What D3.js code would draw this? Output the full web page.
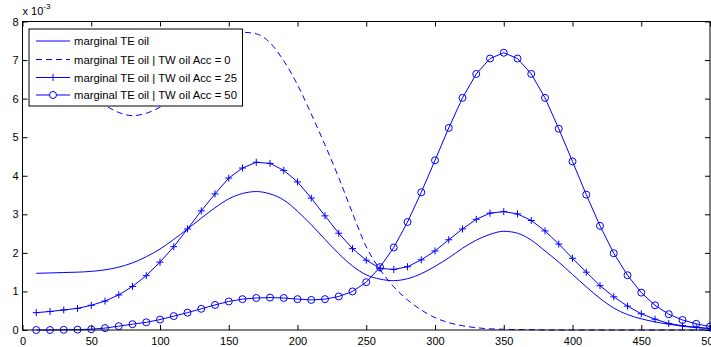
<!DOCTYPE html>
<html lang="en">
<head>
  <meta charset="UTF-8">
  <title>marginal TE oil</title>
  <style>
    body { margin: 0; background: #fff; }
    text { font-family: "Liberation Sans", Arial, sans-serif; fill: #000; }
  </style>
</head>
<body>
  <svg id="chart" width="711" height="347"></svg>

  <script src="https://d3js.org/d3.v7.min.js"></script>
  <script>
    // x positions (same for every series)
    const xs = [10, 20, 30, 40, 50, 60, 70, 80, 90, 100,
                110, 120, 130, 140, 150, 160, 170, 180, 190, 200,
                210, 220, 230, 240, 250, 260, 270, 280, 290, 300,
                310, 320, 330, 340, 350, 360, 370, 380, 390, 400,
                410, 420, 430, 440, 450, 460, 470, 480, 490, 500];

    // values in units of 1e-3
    const marginal = [1.47, 1.48, 1.49, 1.50, 1.52, 1.56, 1.63, 1.74, 1.90, 2.10,
                      2.35, 2.62, 2.90, 3.17, 3.40, 3.54, 3.59, 3.53, 3.37, 3.08,
                      2.73, 2.35, 1.98, 1.66, 1.43, 1.32, 1.28, 1.33, 1.46, 1.65,
                      1.87, 2.12, 2.33, 2.48, 2.56, 2.51, 2.33, 2.05, 1.76, 1.44,
                      1.12, 0.82, 0.57, 0.40, 0.29, 0.21, 0.15, 0.10, 0.06, 0.04];

    const acc0 = [6.70, 6.55, 6.35, 6.15, 5.98, 5.82, 5.64, 5.56, 5.62, 5.78,
                  6.05, 6.40, 6.78, 7.15, 7.48, 7.72, 7.68, 7.45, 6.98, 6.36,
                  5.60, 4.80, 3.95, 3.03, 2.16, 1.57, 1.12, 0.78, 0.52, 0.32,
                  0.19, 0.11, 0.06, 0.03, 0.02, 0.01, 0.01, 0.0, 0.0, 0.0,
                  0.0, 0.0, 0.0, 0.0, 0.0, 0.0, 0.0, 0.0, 0.0, 0.0];

    const acc25 = [0.45, 0.48, 0.52, 0.56, 0.64, 0.75, 0.91, 1.13, 1.41, 1.76,
                   2.16, 2.62, 3.09, 3.53, 3.94, 4.20, 4.35, 4.32, 4.14, 3.84,
                   3.42, 2.96, 2.51, 2.11, 1.81, 1.60, 1.57, 1.64, 1.82, 2.05,
                   2.34, 2.62, 2.87, 3.03, 3.07, 3.01, 2.84, 2.57, 2.23, 1.86,
                   1.50, 1.15, 0.86, 0.62, 0.42, 0.28, 0.17, 0.11, 0.07, 0.04];

    const acc50 = [0.0, 0.0, 0.005, 0.01, 0.02, 0.05, 0.10, 0.15, 0.20, 0.27,
                   0.36, 0.45, 0.55, 0.65, 0.74, 0.80, 0.83, 0.84, 0.83, 0.80,
                   0.78, 0.80, 0.87, 1.00, 1.24, 1.63, 2.14, 2.80, 3.57, 4.40,
                   5.24, 6.02, 6.64, 7.04, 7.19, 7.04, 6.64, 6.02, 5.22, 4.37,
                   3.51, 2.70, 1.99, 1.42, 0.97, 0.64, 0.41, 0.26, 0.16, 0.09];

    const xTicks = [0, 50, 100, 150, 200, 250, 300, 350, 400, 450, 500];
    const yTicks = [0, 1, 2, 3, 4, 5, 6, 7, 8];

    const legendLabels = ["marginal TE oil",
                          "marginal TE oil | TW oil Acc = 0",
                          "marginal TE oil | TW oil Acc = 25",
                          "marginal TE oil | TW oil Acc = 50"];

    const blue = "#0000ff";
    const mLeft = 22.5, mRight = 710, mTop = 21.5, mBottom = 330;

    const svg = d3.select("#chart");

    const x = d3.scaleLinear().domain([0, 500]).range([mLeft, mRight]);
    const y = d3.scaleLinear().domain([0, 8]).range([mBottom, mTop]);

    // axes, matlab style: ticks inside on all four sides
    svg.append("g")
      .attr("transform", `translate(0, ${mBottom})`)
      .call(d3.axisBottom(x).tickValues(xTicks).tickSizeInner(-5).tickSizeOuter(0).tickPadding(7))
      .call(g => g.select(".domain").remove())
      .call(g => g.selectAll("text").attr("font-size", 11).attr("font-family", "Liberation Sans, Arial, sans-serif"));

    svg.append("g")
      .attr("transform", `translate(0, ${mTop})`)
      .call(d3.axisTop(x).tickValues(xTicks).tickSizeInner(-5).tickSizeOuter(0).tickFormat(""))
      .call(g => g.select(".domain").remove());

    svg.append("g")
      .attr("transform", `translate(${mLeft}, 0)`)
      .call(d3.axisLeft(y).tickValues(yTicks).tickSizeInner(-5).tickSizeOuter(0).tickPadding(4))
      .call(g => g.select(".domain").remove())
      .call(g => g.selectAll("text").attr("font-size", 11).attr("font-family", "Liberation Sans, Arial, sans-serif"));

    svg.append("g")
      .attr("transform", `translate(${mRight}, 0)`)
      .call(d3.axisRight(y).tickValues(yTicks).tickSizeInner(-5).tickSizeOuter(0).tickFormat(""))
      .call(g => g.select(".domain").remove());

    svg.selectAll(".tick line").attr("stroke", "#000");

    // exponent label
    const expo = svg.append("text").attr("x", mLeft).attr("y", 15).attr("font-size", 11);
    expo.append("tspan").text("x 10");
    expo.append("tspan").attr("dy", -6).attr("font-size", 8).text("-3");

    const line = d3.line().x(d => x(d[0])).y(d => y(d[1]));
    const smooth = d3.line().x(d => x(d[0])).y(d => y(d[1])).curve(d3.curveMonotoneX);

    const pts = vals => xs.map((v, i) => [v, vals[i]]);

    svg.append("path").datum(pts(marginal))
      .attr("d", smooth).attr("fill", "none").attr("stroke", blue).attr("stroke-width", 1);

    svg.append("path").datum(pts(acc0))
      .attr("d", smooth).attr("fill", "none").attr("stroke", blue).attr("stroke-width", 1)
      .attr("stroke-dasharray", "6,4");

    svg.append("path").datum(pts(acc25))
      .attr("d", line).attr("fill", "none").attr("stroke", blue).attr("stroke-width", 1);

    svg.append("path").datum(pts(acc50))
      .attr("d", line).attr("fill", "none").attr("stroke", blue).attr("stroke-width", 1);

    // plus markers
    svg.append("g").selectAll("path")
      .data(pts(acc25))
      .join("path")
      .attr("d", d => `M${x(d[0]) - 3.5},${y(d[1])}h7M${x(d[0])},${y(d[1]) - 3.5}v7`)
      .attr("stroke", blue).attr("stroke-width", 1);

    // circle markers
    svg.append("g").selectAll("circle")
      .data(pts(acc50))
      .join("circle")
      .attr("cx", d => x(d[0]))
      .attr("cy", d => y(d[1]))
      .attr("r", 3.5)
      .attr("fill", "none").attr("stroke", blue).attr("stroke-width", 1);

    // box
    svg.append("rect")
      .attr("x", mLeft).attr("y", mTop)
      .attr("width", mRight - mLeft).attr("height", mBottom - mTop)
      .attr("fill", "none").attr("stroke", "#000").attr("stroke-width", 1);

    // legend
    const lg = svg.append("g");
    lg.append("rect")
      .attr("x", 29).attr("y", 29).attr("width", 213.5).attr("height", 77)
      .attr("fill", "#fff").attr("stroke", "#000").attr("stroke-width", 1);

    const rowY = [41, 59.5, 77.5, 95];
    legendLabels.forEach((lab, i) => {
      const ry = rowY[i];
      lg.append("line")
        .attr("x1", 36).attr("x2", 70).attr("y1", ry).attr("y2", ry)
        .attr("stroke", blue).attr("stroke-width", 1)
        .attr("stroke-dasharray", i === 1 ? "6,4" : null);
      if (i === 2) {
        lg.append("path").attr("d", `M49.5,${ry}h7M53,${ry - 3.5}v7`)
          .attr("stroke", blue).attr("stroke-width", 1);
      }
      if (i === 3) {
        lg.append("circle").attr("cx", 53).attr("cy", ry).attr("r", 3.5)
          .attr("fill", "#fff").attr("stroke", blue).attr("stroke-width", 1);
      }
      lg.append("text")
        .attr("x", 74).attr("y", ry + 4)
        .attr("font-size", 11.3)
        .text(lab);
    });
  </script>
</body>
</html>
